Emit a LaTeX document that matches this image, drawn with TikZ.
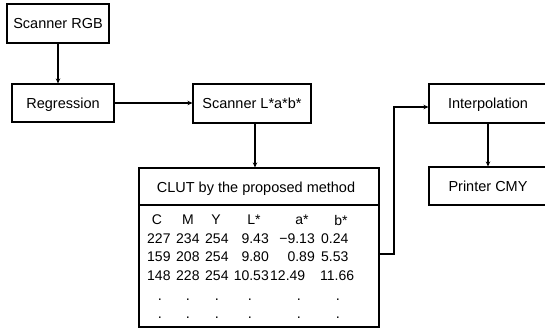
\documentclass[tikz,border=0pt]{standalone}
\usepackage{fontspec}
\setmainfont{Liberation Sans}
\usetikzlibrary{arrows.meta}
\begin{document}
\begin{tikzpicture}[x=1pt,y=-1pt,
  box/.style={draw, line width=1.1pt, inner sep=0pt, text height=10.4pt, text depth=0pt,
              font=\fontsize{14.5}{17}\selectfont},
  cell/.style={inner sep=0pt, font=\fontsize{14}{17}\selectfont},
  dot/.style={inner sep=0pt, font=\fontsize{14.5}{17}\selectfont},
  conn/.style={line width=1.1pt, -{Stealth[length=5pt,width=4.5pt]}}]
\useasboundingbox (0,0) rectangle (545,328);

\node[box, minimum width=102pt, minimum height=39pt] (rgb) at (58,23.5) {Scanner RGB};
\node[box, minimum width=102pt, minimum height=38pt] (reg) at (63,103) {Regression};
\node[box, minimum width=118pt, minimum height=39pt] (lab) at (252,103.5) {Scanner L*a*b*};
\node[box, minimum width=118pt, minimum height=39pt] (interp) at (488,103.5) {Interpolation};
\node[box, minimum width=118pt, minimum height=38pt] (printer) at (488,186) {Printer CMY};

\node[box, minimum width=240pt, minimum height=159pt] (clut) at (259,247.5) {};
\coordinate (sepl) at (139,205);
\coordinate (sepr) at (379,205);
\draw[line width=1.1pt] (sepl) -- (sepr);
\node[inner sep=0pt, text height=10.4pt, text depth=0pt, font=\fontsize{14.5}{17}\selectfont] (head) at (256,187) {CLUT by the proposed method};

% header row
\node[cell] (hC) at (157,220) {C};
\node[cell] (hM) at (188,220) {M};
\node[cell] (hY) at (216,220) {Y};
\node[cell] (hL) at (254,220) {L*};
\node[cell] (ha) at (302,220) {a*};
\node[cell] (hb) at (341,220) {b*};

% row 1
\node[cell, anchor=west] (r1c1) at (147,238.5) {227};
\node[cell, anchor=west] (r1c2) at (176,238.5) {234};
\node[cell, anchor=west] (r1c3) at (205,238.5) {254};
\node[cell, anchor=east] (r1c4) at (269,238.5) {9.43};
\node[cell, anchor=east] (r1c5) at (315,238.5) {−9.13};
\node[cell, anchor=west] (r1c6) at (321,238.5) {0.24};
% row 2
\node[cell, anchor=west] (r2c1) at (147,257) {159};
\node[cell, anchor=west] (r2c2) at (176,257) {208};
\node[cell, anchor=west] (r2c3) at (205,257) {254};
\node[cell, anchor=east] (r2c4) at (269,257) {9.80};
\node[cell, anchor=east] (r2c5) at (315,257) {0.89};
\node[cell, anchor=west] (r2c6) at (321,257) {5.53};
% row 3
\node[cell, anchor=west] (r3c1) at (147,275.5) {148};
\node[cell, anchor=west] (r3c2) at (176,275.5) {228};
\node[cell, anchor=west] (r3c3) at (205,275.5) {254};
\node[cell, anchor=east] (r3c4) at (269,275.5) {10.53};
\node[cell, anchor=west] (r3c5) at (270,275.5) {12.49};
\node[cell, anchor=west] (r3c6) at (320,275.5) {11.66};
% dots
\foreach \x [count=\i] in {160,188,217,250,299,338}{
  \node[dot] (da\i) at (\x,300) {.};
  \node[dot] (db\i) at (\x,318) {.};
}

% connectors
\draw[conn] (rgb.south) -- (rgb.south |- reg.north);
\draw[conn] (reg.east) -- (reg.east -| lab.west);
\draw[conn] ([xshift=3pt]lab.south) -- ([xshift=3pt]lab.south |- clut.north);
\coordinate (turn) at (394,107);
\draw[conn] ([yshift=-6.5pt]clut.east) -| (turn) -- (turn -| interp.west);
\draw[conn] (interp.south) -- (printer.north);
\end{tikzpicture}
\end{document}
